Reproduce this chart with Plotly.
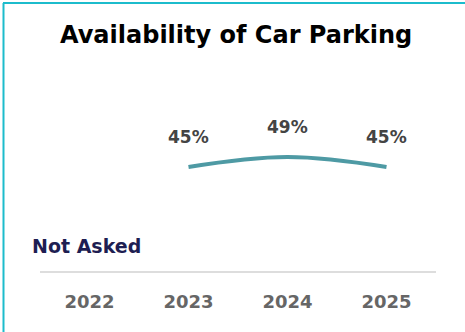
import plotly.graph_objects as go

years = ["2022", "2023", "2024", "2025"]
line_years = ["2023", "2024", "2025"]
values = [45, 49, 45]
labels = ["45%", "49%", "45%"]
title = "Availability of Car Parking"
not_asked = "Not Asked"

W, H = 465, 332
ml, mr, mt, mb = 40, 29, 80, 61
pw, ph = W - ml - mr, H - mt - mb

def px_x(p):
    return (p - ml) / pw

def px_y(p):
    return (H - mb - p) / ph

fig = go.Figure()
fig.add_trace(go.Scatter(
    x=line_years, y=values, mode="lines",
    line=dict(color="#4e9aa4", width=4, shape="spline", smoothing=1.1),
    hoverinfo="skip", showlegend=False,
))

for x, y, t in zip(line_years, values, labels):
    fig.add_annotation(x=years.index(x), y=y, text=t, showarrow=False, yshift=30,
                       font=dict(family="DejaVu Sans", size=17, color="#444444", weight="bold"))

fig.add_annotation(x=0, y=0, yref="paper", text=not_asked, showarrow=False,
                   yshift=12, xshift=-3,
                   font=dict(family="DejaVu Sans", size=19, color="#1e1e52", weight="bold"))

fig.add_annotation(x=0.5, xref="paper", y=px_y(35), yref="paper", text=title, showarrow=False,
                   xanchor="center", yanchor="middle", xshift=-2,
                   font=dict(family="DejaVu Sans", size=24, color="#000000", weight="bold"))

# card border (top and left)
fig.add_shape(type="line", xref="paper", yref="paper",
              x0=px_x(3), x1=px_x(470), y0=px_y(3), y1=px_y(3),
              line=dict(color="#1cbccc", width=2))
fig.add_shape(type="line", xref="paper", yref="paper",
              x0=px_x(3.5), x1=px_x(3.5), y0=px_y(3), y1=px_y(340),
              line=dict(color="#1cbccc", width=2))

fig.update_layout(
    width=W, height=H,
    margin=dict(l=ml, r=mr, t=mt, b=mb),
    paper_bgcolor="white", plot_bgcolor="white",
    showlegend=False,
    xaxis=dict(type="category", categoryorder="array", categoryarray=years,
               range=[-0.5, 3.5], showgrid=False, zeroline=False,
               showline=True, linecolor="#dddddd", linewidth=2,
               ticks="", ticklabelstandoff=13,
               tickfont=dict(family="DejaVu Sans", size=18, color="#666666", weight="bold")),
    yaxis=dict(range=[3.4, 79.8], visible=False, showgrid=False, zeroline=False),
)

fig.write_html("out.html", config={"displayModeBar": False},
               post_script="document.body.style.margin='0';")
